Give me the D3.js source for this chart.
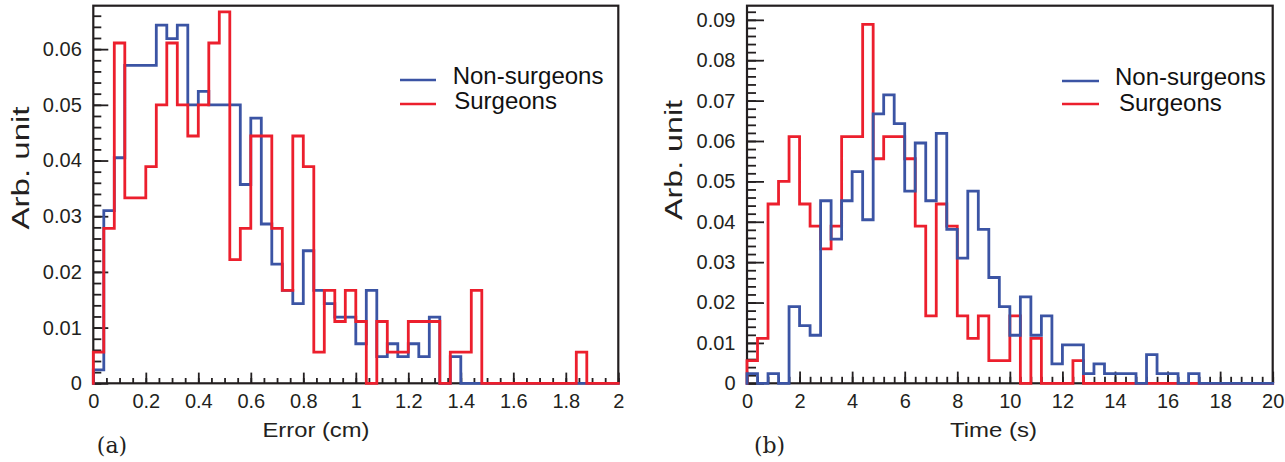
<!DOCTYPE html>
<html><head><meta charset="utf-8">
<script src="https://cdn.jsdelivr.net/npm/d3@7"></script>
<style>
body{margin:0;background:#fff;}
svg{display:block;font-family:"Liberation Sans",Arial,Helvetica,sans-serif;}
</style></head><body>
<svg id="chart" width="1285" height="462"></svg>
<script>
// ---------- data ----------
const seriesNames = ["Non-surgeons", "Surgeons"];

// panel (a): Error (cm), 50 bins of 0.04
const errorBinWidth = 0.04;
const errorNonSurgeons = [0.0024, 0.0310, 0.0405, 0.0571, 0.0571, 0.0571, 0.0643, 0.0619, 0.0643, 0.0500,
  0.0524, 0.0500, 0.0500, 0.0500, 0.0357, 0.0476, 0.0286, 0.0214, 0.0167, 0.0143,
  0.0238, 0.0167, 0.0143, 0.0119, 0.0119, 0.0071, 0.0167, 0.0048, 0.0071, 0.0048,
  0.0071, 0.0048, 0.0119, 0, 0.0048, 0, 0, 0, 0, 0,
  0, 0, 0, 0, 0, 0, 0, 0, 0, 0];
const errorSurgeons = [0.0056, 0.0278, 0.0611, 0.0333, 0.0333, 0.0389, 0.0500, 0.0611, 0.0500, 0.0444,
  0.0500, 0.0611, 0.0667, 0.0222, 0.0278, 0.0444, 0.0444, 0.0278, 0.0167, 0.0444,
  0.0389, 0.0056, 0.0167, 0.0111, 0.0167, 0.0111, 0, 0.0111, 0.0056, 0.0056,
  0.0111, 0.0111, 0.0111, 0, 0.0056, 0.0056, 0.0167, 0, 0, 0,
  0, 0, 0, 0, 0, 0, 0.0056, 0, 0, 0];
const errorXTicks = [0, 0.2, 0.4, 0.6, 0.8, 1, 1.2, 1.4, 1.6, 1.8, 2];
const errorXTickLabels = ["0", "0.2", "0.4", "0.6", "0.8", "1", "1.2", "1.4", "1.6", "1.8", "2"];
const errorYTicks = [0, 0.01, 0.02, 0.03, 0.04, 0.05, 0.06];
const errorYTickLabels = ["0", "0.01", "0.02", "0.03", "0.04", "0.05", "0.06"];

// panel (b): Time (s), 50 bins of 0.4
const timeBinWidth = 0.4;
const timeNonSurgeons = [0.0024, 0, 0.0024, 0, 0.0190, 0.0143, 0.0119, 0.0452, 0.0357, 0.0452,
  0.0524, 0.0405, 0.0667, 0.0714, 0.0643, 0.0476, 0.0595, 0.0452, 0.0619, 0.0381,
  0.0310, 0.0476, 0.0381, 0.0262, 0.0190, 0.0119, 0.0214, 0.0119, 0.0167, 0.0048,
  0.0095, 0.0095, 0.0024, 0.0048, 0.0024, 0.0024, 0.0024, 0, 0.0071, 0.0024,
  0.0024, 0, 0.0024, 0, 0, 0, 0, 0, 0, 0];
const timeSurgeons = [0.0056, 0.0111, 0.0444, 0.0500, 0.0611, 0.0444, 0.0389, 0.0333, 0.0389, 0.0611,
  0.0611, 0.0889, 0.0556, 0.0611, 0.0611, 0.0556, 0.0389, 0.0167, 0.0444, 0.0389,
  0.0167, 0.0111, 0.0167, 0.0056, 0.0056, 0.0167, 0, 0.0111, 0, 0,
  0, 0.0056, 0, 0, 0, 0, 0, 0, 0, 0,
  0, 0, 0, 0, 0, 0, 0, 0, 0, 0];
const timeXTicks = [0, 2, 4, 6, 8, 10, 12, 14, 16, 18, 20];
const timeXTickLabels = ["0", "2", "4", "6", "8", "10", "12", "14", "16", "18", "20"];
const timeYTicks = [0, 0.01, 0.02, 0.03, 0.04, 0.05, 0.06, 0.07, 0.08, 0.09];
const timeYTickLabels = ["0", "0.01", "0.02", "0.03", "0.04", "0.05", "0.06", "0.07", "0.08", "0.09"];

// ---------- styles / layout ----------
const BLUE = "#3b54a4", RED = "#ec1f2d", INK = "#231f20";

const panels = [
  {
    left: 93.3, right: 618.3, top: 5.7, bottom: 383.3,
    xDomain: [0, 2], yDomain: [0, 0.0678],
    binWidth: errorBinWidth, blue: errorNonSurgeons, red: errorSurgeons, redOnTop: true,
    xTicks: errorXTicks, xLabels: errorXTickLabels, yTicks: errorYTicks, yLabels: errorYTickLabels,
    xMinorStep: 0.05, yMinorStep: 0.002,
    xMajorLen: 10.7, xMinorLen: 5.3, yMajorLen: 15, yMinorLen: 8,
    xTitle: "Error (cm)", xTitleX: 316, xTitleLen: 107,
    yTitleX: 29, yTitleY: 168, yTitleLen: 123,
    tag: "(a)", tagX: 112,
    legLineX: [400, 436], legBlueY: 80, legRedY: 104,
    legTextX: 452.7, legBlueTextY: 83.5, legRedTextY: 108.5, legRedTextDX: 1.5
  },
  {
    left: 747, right: 1272.7, top: 5.7, bottom: 383.3,
    xDomain: [0, 20], yDomain: [0, 0.0935],
    binWidth: timeBinWidth, blue: timeNonSurgeons, red: timeSurgeons, redOnTop: false,
    xTicks: timeXTicks, xLabels: timeXTickLabels, yTicks: timeYTicks, yLabels: timeYTickLabels,
    xMinorStep: 0.4, yMinorStep: 0.002,
    xMajorLen: 11.7, xMinorLen: 6.5, yMajorLen: 17, yMinorLen: 9,
    xTitle: "Time (s)", xTitleX: 993.5, xTitleLen: 87,
    yTitleX: 682, yTitleY: 160, yTitleLen: 120,
    tag: "(b)", tagX: 769.5,
    legLineX: [1062, 1099], legBlueY: 81, legRedY: 104,
    legTextX: 1115, legBlueTextY: 85, legRedTextY: 111, legRedTextDX: 4
  }
];

const svg = d3.select("#chart");

function stepPoints(values, binWidth) {
  const pts = [[0, 0]];
  values.forEach((v, i) => {
    pts.push([i * binWidth, v]);
    pts.push([(i + 1) * binWidth, v]);
  });
  pts.push([values.length * binWidth, 0]);
  return pts;
}

panels.forEach(p => {
  const g = svg.append("g");
  const x = d3.scaleLinear().domain(p.xDomain).range([p.left, p.right]);
  const y = d3.scaleLinear().domain(p.yDomain).range([p.bottom, p.top]);

  // minor ticks
  const xMinor = d3.range(p.xDomain[0], p.xDomain[1] + 1e-9, p.xMinorStep).map(v => +v.toFixed(6));
  const yMinor = d3.range(0, p.yDomain[1], p.yMinorStep).map(v => +v.toFixed(6));

  const gxMinor = g.append("g").attr("transform", `translate(0,${p.bottom})`)
    .call(d3.axisBottom(x).tickValues(xMinor).tickSize(-p.xMinorLen).tickFormat(""));
  const gyMinor = g.append("g").attr("transform", `translate(${p.left},0)`)
    .call(d3.axisLeft(y).tickValues(yMinor).tickSize(-p.yMinorLen).tickFormat(""));

  const gx = g.append("g").attr("transform", `translate(0,${p.bottom})`)
    .call(d3.axisBottom(x).tickValues(p.xTicks).tickSize(-p.xMajorLen).tickPadding(10.5)
      .tickFormat((d, i) => p.xLabels[i]));
  const gy = g.append("g").attr("transform", `translate(${p.left},0)`)
    .call(d3.axisLeft(y).tickValues(p.yTicks).tickSize(-p.yMajorLen).tickPadding(11.5)
      .tickFormat((d, i) => p.yLabels[i]));

  [gxMinor, gyMinor, gx, gy].forEach(a => {
    a.select(".domain").remove();
    a.selectAll("line").attr("stroke", INK).attr("stroke-width", 1.8);
    a.selectAll("text").attr("fill", INK).style("font-size", "20px")
      .style("font-family", '"Liberation Sans",Arial,sans-serif');
  });

  // frame
  g.append("rect").attr("x", p.left).attr("y", p.top)
    .attr("width", p.right - p.left).attr("height", p.bottom - p.top)
    .attr("fill", "none").attr("stroke", INK).attr("stroke-width", 2.2);

  // histograms
  const line = d3.line().x(d => x(d[0])).y(d => y(d[1]));
  const order = p.redOnTop ? [["blue", BLUE], ["red", RED]] : [["red", RED], ["blue", BLUE]];
  order.forEach(([key, col]) => {
    g.append("path").datum(stepPoints(p[key], p.binWidth))
      .attr("d", line).attr("fill", "none").attr("stroke", col)
      .attr("stroke-width", 2.8).attr("stroke-linejoin", "miter").attr("stroke-linecap", "square");
  });

  // axis titles
  g.append("text").attr("x", p.xTitleX).attr("y", 437).attr("text-anchor", "middle")
    .attr("fill", INK).style("font-size", "21px")
    .attr("textLength", p.xTitleLen).attr("lengthAdjust", "spacingAndGlyphs")
    .text(p.xTitle);
  g.append("text").attr("transform", `translate(${p.yTitleX},${p.yTitleY}) rotate(-90)`)
    .attr("text-anchor", "middle").attr("fill", INK).style("font-size", "23px")
    .attr("textLength", p.yTitleLen).attr("lengthAdjust", "spacingAndGlyphs")
    .text("Arb. unit");

  // panel tag
  g.append("text").attr("x", p.tagX).attr("y", 453).attr("text-anchor", "middle")
    .attr("fill", INK).style("font-size", "22px").style("font-family", '"DejaVu Serif",serif')
    .text(p.tag);

  // legend
  const leg = g.append("g");
  leg.append("line").attr("x1", p.legLineX[0]).attr("x2", p.legLineX[1])
    .attr("y1", p.legBlueY).attr("y2", p.legBlueY).attr("stroke", BLUE).attr("stroke-width", 2.5);
  leg.append("line").attr("x1", p.legLineX[0]).attr("x2", p.legLineX[1])
    .attr("y1", p.legRedY).attr("y2", p.legRedY).attr("stroke", RED).attr("stroke-width", 2.5);
  leg.append("text").attr("x", p.legTextX).attr("y", p.legBlueTextY).attr("fill", "#111")
    .style("font-size", "24px").text(seriesNames[0]);
  leg.append("text").attr("x", p.legTextX + p.legRedTextDX).attr("y", p.legRedTextY).attr("fill", "#111")
    .style("font-size", "24px").text(seriesNames[1]);
});
</script>
</body></html>
